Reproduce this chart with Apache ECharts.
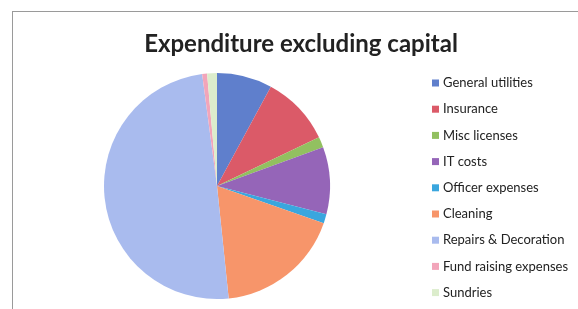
<!DOCTYPE html>
<html><head><meta charset="utf-8">
<script src="https://cdn.jsdelivr.net/npm/echarts@6/dist/echarts.min.js"></script>
<style>html,body{margin:0;padding:0;background:#fff}#c{width:578px;height:309px}</style>
</head><body><div id="c"></div>
<script>
const categories = ["General utilities","Insurance","Misc licenses","IT costs","Officer expenses","Cleaning","Repairs & Decoration","Fund raising expenses","Sundries"];
const values = [7.9, 10.0, 1.5, 9.6, 1.3, 18.0, 49.5, 0.7, 1.4];
const colors = ["#5F7FCC","#DB5A68","#92C060","#9565B8","#3AA6DE","#F7956A","#A9BBEE","#F2A5BA","#DCEDCC"];
const chart = echarts.init(document.getElementById('c'));
chart.setOption({
  animation:false,
  backgroundColor:'#fff',
  title:{text:'Expenditure excluding capital',left:296,textAlign:'center',top:27,
    textStyle:{fontFamily:'Lato',fontWeight:'bold',fontSize:24,color:'#222'}},
  legend:{orient:'vertical',left:432,top:76,padding:0,itemWidth:7,itemHeight:7,itemGap:12.2,
    icon:'rect',data:categories,
    textStyle:{fontFamily:'Lato',fontSize:13,color:'#222',lineHeight:14,padding:[0,0,0,-1]}},
  graphic:[
    {type:'line',shape:{x1:12,y1:11.5,x2:578,y2:11.5},style:{stroke:'#9a9a9a',lineWidth:1}},
    {type:'line',shape:{x1:12.5,y1:11,x2:12.5,y2:309},style:{stroke:'#9a9a9a',lineWidth:1}}
  ],
  series:[{type:'pie',center:[217,186],radius:113,startAngle:90,clockwise:true,
    label:{show:false},labelLine:{show:false},
    itemStyle:{borderWidth:0},
    emphasis:{disabled:true},
    data:categories.map((n,i)=>({name:n,value:values[i],itemStyle:{color:colors[i]}}))}]
});
</script></body></html>
